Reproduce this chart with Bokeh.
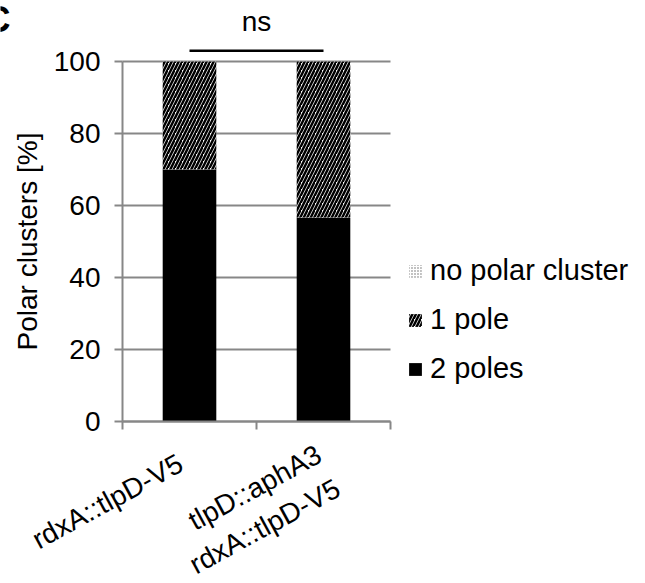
from bokeh.plotting import figure
from bokeh.models import (Range1d, FixedTicker, Legend, LegendItem, ColumnDataSource, Grid)
from bokeh.core.properties import value
from bokeh.embed import file_html
from bokeh.resources import INLINE

# ---- data ----
categories = ["rdxA::tlpD-V5", "tlpD::aphA3\nrdxA::tlpD-V5"]
two_poles = [70.0, 56.7]
one_pole = [30.0, 43.3]
no_cluster = [0.0, 0.0]
series_names = ["2 poles", "1 pole", "no polar cluster"]
y_ticks = [0, 20, 40, 60, 80, 100]
sig_text = ["ns"]
sig_pair = [0, 1]          # indices of compared categories
sig_level = 103.0          # bracket height in % units
y_title = "Polar clusters [%]"
panel_letter = ["C"]

FONT = "Liberation Sans"
GRID = "#878787"

n = len(categories)
xpos = [i + 0.5 for i in range(n)]
src = ColumnDataSource(dict(x=xpos, two=two_poles, one=one_pole, none=no_cluster))

# The frame covers the whole canvas; the data area 0..2 x 0..100 sits at
# x 122..390 px and y 421..61 px, the axes are pinned at 0.
PX_X = 268 / n      # px per category
PX_Y = 360 / 100    # px per percent
p = figure(width=645, height=583, output_backend="svg", toolbar_location=None,
           x_range=Range1d(-122 / PX_X, (645 - 122) / PX_X),
           y_range=Range1d(-(583 - 421) / PX_Y, 100 + 61 / PX_Y),
           min_border=0, outline_line_color=None)

renderers = p.vbar_stack(["two", "one", "none"], x="x", width=0.4, source=src,
                         color=["black", "white", "white"], line_color=None)
r_two, r_one, r_none = renderers
r_one.glyph.hatch_pattern = "/"
r_one.glyph.hatch_color = "black"
r_one.glyph.hatch_scale = 7
r_one.glyph.hatch_weight = 2.5
r_none.glyph.hatch_pattern = "dot"
r_none.glyph.hatch_color = "#666666"
r_none.glyph.hatch_scale = 3
r_none.glyph.hatch_weight = 1.2

# y axis
p.yaxis.fixed_location = 0
p.yaxis.ticker = FixedTicker(ticks=y_ticks)
p.yaxis.bounds = (y_ticks[0], y_ticks[-1])
p.yaxis.major_tick_out = 8
p.yaxis.major_tick_in = 0
p.yaxis.minor_tick_line_color = None
p.yaxis.major_tick_line_color = GRID
p.yaxis.major_tick_line_width = 2
p.yaxis.axis_line_color = GRID
p.yaxis.axis_line_width = 2
p.yaxis.major_label_standoff = 14
p.yaxis.major_label_text_font = FONT
p.yaxis.major_label_text_font_size = "28px"
p.yaxis.major_label_text_color = "black"
p.yaxis.axis_label = y_title
p.yaxis.axis_label_text_font = FONT
p.yaxis.axis_label_text_font_size = "28px"
p.yaxis.axis_label_text_font_style = "normal"
p.yaxis.axis_label_text_color = "black"
p.yaxis.axis_label_standoff = 8

# x axis: tick marks at the category boundaries; category names drawn below
p.xaxis.fixed_location = 0
p.xaxis.bounds = (0, n)
p.xaxis.ticker = FixedTicker(ticks=xpos, minor_ticks=list(range(n + 1)))
p.xaxis.major_label_text_alpha = 0
p.xaxis.major_tick_out = 0
p.xaxis.major_tick_in = 0
p.xaxis.minor_tick_out = 8
p.xaxis.minor_tick_in = 0
p.xaxis.minor_tick_line_color = GRID
p.xaxis.minor_tick_line_width = 2
p.xaxis.axis_line_color = GRID
p.xaxis.axis_line_width = 2

p.text(x=xpos, y=[0] * n, text=categories, angle=0.5, text_align="right",
       text_baseline="middle", x_offset=[-9, 5], y_offset=[40, 48],
       text_font=value(FONT), text_font_size="28px", text_color="black",
       text_line_height=1.25)

p.xgrid.grid_line_color = None
if "cross_bounds" in Grid.properties():
    p.ygrid.ticker = FixedTicker(ticks=y_ticks)
    p.ygrid.cross_bounds = (0, n)
    p.ygrid.grid_line_color = GRID
    p.ygrid.grid_line_width = 2
else:
    p.ygrid.grid_line_color = None
    p.segment(x0=[0] * len(y_ticks), x1=[n] * len(y_ticks), y0=y_ticks, y1=y_ticks,
              line_color=GRID, line_width=2, level="underlay")

# significance bracket and label
bx = [xpos[sig_pair[0]], xpos[sig_pair[1]]]
p.segment(x0=[bx[0]], y0=[sig_level], x1=[bx[1]], y1=[sig_level],
          line_color="black", line_width=2.5)
p.text(x=[sum(bx) / 2], y=[sig_level], text=sig_text, text_align="center",
       text_baseline="middle", y_offset=-29, text_font=value(FONT),
       text_font_size="28px", text_color="black")

# panel letter (cut at the left edge as in the source figure)
p.text(x=[p.x_range.start], y=[p.y_range.end], text=panel_letter, text_align="right",
       text_baseline="top", x_offset=10, y_offset=-2, text_font=value(FONT),
       text_font_size="36px", text_font_style="bold", text_color="black")

# legend (reverse order), to the right of the bars
items = [LegendItem(label=series_names[2], renderers=[r_none]),
         LegendItem(label=series_names[1], renderers=[r_one]),
         LegendItem(label=series_names[0], renderers=[r_two])]
legend = Legend(items=items, location=(407, 198), padding=0, margin=0,
                border_line_color=None, background_fill_alpha=0,
                glyph_width=16, glyph_height=16, label_height=24, spacing=16,
                label_standoff=7, label_text_font=FONT,
                label_text_font_size="29px", label_text_color="black")
p.add_layout(legend, "center")

open("out.html", "w").write(file_html(p, INLINE))
